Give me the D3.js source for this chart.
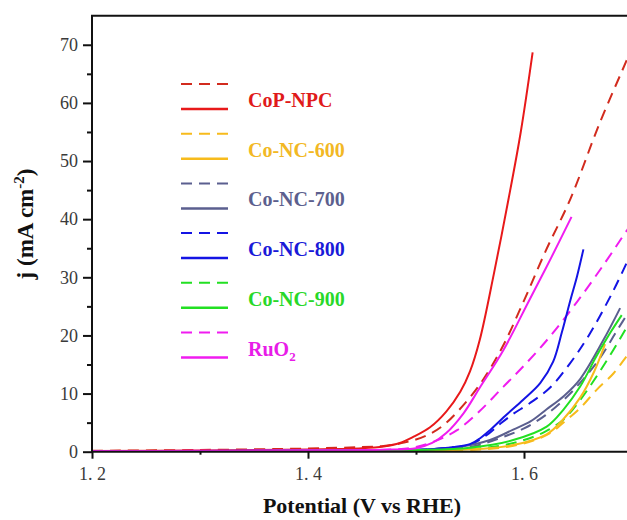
<!DOCTYPE html>
<html><head><meta charset="utf-8">
<script src="https://cdn.jsdelivr.net/npm/d3@7"></script>
<style>html,body{margin:0;padding:0;background:#fff;}svg{display:block;}</style>
</head><body>
<svg id="chart" width="627" height="520"></svg>
<script>
// ---- data (potential V vs RHE, current density mA cm^-2) ----
const seriesNames = ["CoP-NPC", "Co-NC-600", "Co-NC-700", "Co-NC-800", "Co-NC-900", "RuO2"];
const solidColors = ["#e8191a", "#f7bb1c", "#5b5f8f", "#1414e4", "#22e022", "#f01cf0"];
const dashColors  = ["#d22b1e", "#f7bb1c", "#5b5f8f", "#1414e4", "#22e022", "#f01cf0"];
const textColors  = ["#e01a1a", "#f2b824", "#5c5f8e", "#1a1ad8", "#28d828", "#e81ce8"];

const copNpcSolid = [[1.2,0.1],[1.3,0.2],[1.4,0.4],[1.45,0.6],[1.47,0.9],[1.485,1.5],[1.497,2.5],[1.513,4.2],[1.528,6.9],[1.541,10.3],[1.55,13.8],[1.559,19.2],[1.572,30.5],[1.5855,43.3],[1.597,55],[1.608,68.7]];
const copNpcDash  = [[1.2,0.15],[1.3,0.3],[1.4,0.55],[1.45,0.8],[1.47,1.0],[1.49,1.6],[1.51,2.8],[1.525,4.5],[1.54,7.2],[1.56,11.8],[1.58,18],[1.6,26],[1.62,34.5],[1.643,43.5],[1.67,56.5],[1.695,67.3],[1.7,69.5]];
const coNc600Solid = [[1.2,0.05],[1.3,0.1],[1.4,0.15],[1.5,0.2],[1.56,0.5],[1.59,1.15],[1.621,3.0],[1.636,5.5],[1.652,9.3],[1.665,13.8],[1.675,18.5]];
const coNc600Dash  = [[1.2,0.05],[1.3,0.1],[1.4,0.15],[1.5,0.15],[1.58,0.7],[1.61,2],[1.625,3.3],[1.6364,5],[1.652,7.5],[1.667,10.6],[1.683,13.5],[1.695,16.4],[1.7,17.5]];
const coNc700Solid = [[1.2,0.05],[1.3,0.1],[1.4,0.2],[1.5,0.3],[1.54,0.8],[1.5685,2.0],[1.59,3.8],[1.606,5.2],[1.621,7.3],[1.637,9.6],[1.652,12.5],[1.6735,19.2],[1.689,24.7]];
const coNc700Dash  = [[1.2,0.05],[1.3,0.1],[1.4,0.2],[1.5,0.25],[1.55,0.8],[1.58,2.5],[1.6,4],[1.62,6.3],[1.64,9.5],[1.655,12.5],[1.67,16],[1.685,20.5],[1.7,25]];
const coNc800Solid = [[1.2,0.05],[1.3,0.1],[1.4,0.2],[1.5,0.35],[1.53,0.7],[1.55,1.3],[1.56,2.4],[1.5685,3.7],[1.584,6.4],[1.599,8.9],[1.615,11.8],[1.627,15.5],[1.635,20.5],[1.643,26.1],[1.649,30.1],[1.655,34.8]];
const coNc800Dash  = [[1.2,0.05],[1.3,0.1],[1.4,0.2],[1.5,0.3],[1.53,0.7],[1.55,1.2],[1.565,2.8],[1.578,4.8],[1.59,6.5],[1.605,8.3],[1.624,11],[1.6426,15.2],[1.66,20],[1.683,27.8],[1.7,34.5]];
const coNc900Solid = [[1.2,0.05],[1.3,0.1],[1.4,0.15],[1.5,0.3],[1.55,0.7],[1.59,2.0],[1.621,4.3],[1.6364,7.2],[1.652,11.2],[1.667,16.4],[1.68,20.5],[1.6905,23.5]];
const coNc900Dash  = [[1.2,0.05],[1.3,0.1],[1.4,0.15],[1.5,0.2],[1.57,0.8],[1.6,2.0],[1.62,3.5],[1.6364,5.5],[1.652,8.9],[1.667,12.9],[1.6827,17.5],[1.7,23]];
const ruo2Solid = [[1.2,0.1],[1.3,0.15],[1.4,0.25],[1.47,0.35],[1.5,0.6],[1.515,1.5],[1.528,3.2],[1.544,6.6],[1.559,11],[1.581,17.5],[1.605,26.1],[1.625,33.3],[1.644,40.4]];
const ruo2Dash  = [[1.2,0.1],[1.3,0.15],[1.4,0.25],[1.48,0.4],[1.5,0.8],[1.52,2],[1.538,3.7],[1.559,7],[1.581,11.2],[1.6,14.8],[1.624,19.8],[1.65,26],[1.675,32.5],[1.695,38],[1.7,39.3]];

const solidSeries = [copNpcSolid, coNc600Solid, coNc700Solid, coNc800Solid, coNc900Solid, ruo2Solid];
const dashSeries  = [copNpcDash, coNc600Dash, coNc700Dash, coNc800Dash, coNc900Dash, ruo2Dash];

const xTicksMajor = [1.2, 1.4, 1.6];
const xTicksMinor = [1.3, 1.5, 1.7];
const yTicksMajor = [0, 10, 20, 30, 40, 50, 60, 70];
const yTicksMinor = [5, 15, 25, 35, 45, 55, 65];
const xTitle = "Potential (V vs RHE)";

// ---- layout ----
const svg = d3.select("#chart");
const L = 92, R = 632, T = 15.7, B = 451.7;
const x = d3.scaleLinear().domain([1.2, 1.7]).range([L, R]);
const y = d3.scaleLinear().domain([0, 75]).range([B, T]);

svg.append("defs").append("clipPath").attr("id","clip")
  .append("rect").attr("x", L).attr("y", T).attr("width", R - L).attr("height", B - T);

const serif = "'Liberation Serif','Times New Roman',serif";

// curves
const line = d3.line().x(d => x(d[0])).y(d => y(d[1])).curve(d3.curveCatmullRom.alpha(0.5));
const g = svg.append("g").attr("clip-path", "url(#clip)");
dashSeries.forEach((s, i) => {
  g.append("path").datum(s).attr("d", line).attr("fill","none")
    .attr("stroke", dashColors[i]).attr("stroke-width", 2).attr("stroke-dasharray", "11,7");
});
solidSeries.forEach((s, i) => {
  g.append("path").datum(s).attr("d", line).attr("fill","none")
    .attr("stroke", solidColors[i]).attr("stroke-width", 2);
});

// axes
function styleAxis(sel){
  sel.select(".domain").remove();
  sel.selectAll("line").attr("stroke","#111").attr("stroke-width",2);
  sel.selectAll("text").attr("font-family", serif).attr("font-size", 18).attr("fill","#3a3a3a");
}
const yAxis = svg.append("g").attr("transform", `translate(${L},0)`)
  .call(d3.axisLeft(y).tickValues(yTicksMajor).tickSize(9).tickPadding(5).tickFormat(d3.format("d")));
styleAxis(yAxis);
const yAxisMinor = svg.append("g").attr("transform", `translate(${L},0)`)
  .call(d3.axisLeft(y).tickValues(yTicksMinor).tickSize(5).tickFormat(""));
styleAxis(yAxisMinor);

const xAxis = svg.append("g").attr("transform", `translate(0,${B})`)
  .call(d3.axisBottom(x).tickValues(xTicksMajor).tickSize(7).tickPadding(9)
    .tickFormat(d => d3.format(".1f")(d).replace(".", ". ")));
styleAxis(xAxis);
xAxis.selectAll("text").attr("xml:space","preserve").style("white-space","pre");
const xAxisMinor = svg.append("g").attr("transform", `translate(0,${B})`)
  .call(d3.axisBottom(x).tickValues(xTicksMinor).tickSize(3).tickFormat(""));
styleAxis(xAxisMinor);

// frame lines
svg.append("line").attr("x1", L).attr("x2", L).attr("y1", T).attr("y2", B + 1)
  .attr("stroke","#111").attr("stroke-width",2);
svg.append("line").attr("x1", L - 1).attr("x2", R).attr("y1", B).attr("y2", B)
  .attr("stroke","#111").attr("stroke-width",2);
svg.append("line").attr("x1", L - 1).attr("x2", R).attr("y1", T).attr("y2", T)
  .attr("stroke","#111").attr("stroke-width",2);

// axis titles
svg.append("text").attr("x", 362).attr("y", 513).attr("text-anchor","middle")
  .attr("font-family", serif).attr("font-weight","bold").attr("font-size", 22).attr("fill","#111")
  .text(xTitle);
const yt = svg.append("text").attr("transform","translate(33,224) rotate(-90)").attr("text-anchor","middle")
  .attr("font-family", serif).attr("font-weight","bold").attr("font-size", 23).attr("fill","#111");
yt.append("tspan").text("j (mA cm");
yt.append("tspan").attr("dy", -9).attr("font-size", 15).text("-2");
yt.append("tspan").attr("dy", 9).text(")");

// legend
const lg = svg.append("g");
seriesNames.forEach((name, i) => {
  const yd = 84 + 49.7 * i;
  lg.append("line").attr("x1", 181).attr("x2", 228).attr("y1", yd).attr("y2", yd)
    .attr("stroke", dashColors[i]).attr("stroke-width", 2).attr("stroke-dasharray", "11,7");
  lg.append("line").attr("x1", 181).attr("x2", 228).attr("y1", yd + 25).attr("y2", yd + 25)
    .attr("stroke", solidColors[i]).attr("stroke-width", 2.5);
  const t = lg.append("text").attr("x", 248).attr("y", yd + 23)
    .attr("font-family", serif).attr("font-weight","bold").attr("font-size", 20).attr("fill", textColors[i]);
  if (name === "RuO2") {
    t.append("tspan").text("RuO");
    t.append("tspan").attr("dy", 5).attr("font-size", 13).text("2");
  } else {
    t.text(name);
  }
});
</script>
</body></html>
